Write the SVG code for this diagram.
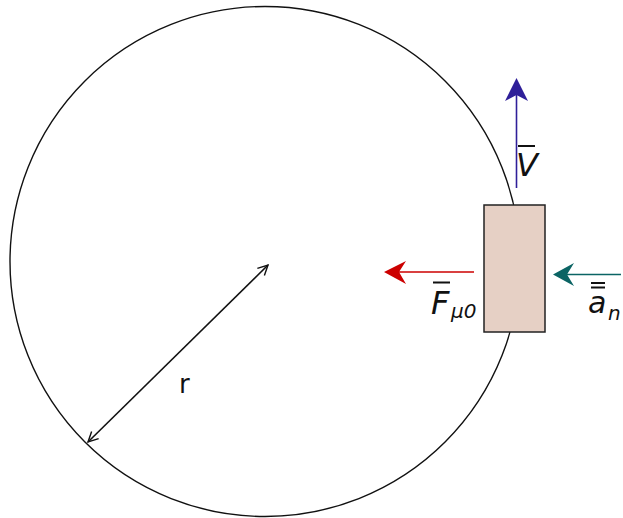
<svg xmlns="http://www.w3.org/2000/svg" width="623" height="518" viewBox="0 0 623 518">
<defs>
<style>
.lbl{font-family:"DejaVu Sans",sans-serif;font-style:italic;fill:#111;}
.ol{stroke:#111;stroke-width:2;}
</style>
<marker id="open" viewBox="0 0 12 12" refX="11" refY="6" markerWidth="12" markerHeight="12" markerUnits="userSpaceOnUse" orient="auto-start-reverse">
<path d="M1,1 L11,6 L1,11" fill="none" stroke="#111" stroke-width="1.4"/>
</marker>
</defs>
<rect width="623" height="518" fill="#fff"/>
<g id="circle">
<circle cx="265" cy="261.5" r="255" fill="none" stroke="#111" stroke-width="1.4"/>
</g>
<g id="block">
<rect x="484" y="205" width="61" height="127" fill="#e6d0c5" stroke="#222" stroke-width="1.5"/>
</g>
<g id="connectors">
<g id="radius">
<line x1="88" y1="442" x2="268" y2="265" stroke="#111" stroke-width="1.6" marker-start="url(#open)" marker-end="url(#open)"/>
</g>
<g id="arrow-V">
<line x1="516.5" y1="188" x2="516.5" y2="92" stroke="#2f1f99" stroke-width="1.6"/>
<path d="M516.5,78 L528,101 L516.5,95 L505,101 Z" fill="#2f1f99"/>
</g>
<g id="arrow-F">
<line x1="474" y1="272" x2="396" y2="272" stroke="#cc0000" stroke-width="1.6"/>
<path d="M384,272 L406,261 L399,272 L406,284 Z" fill="#cc0000"/>
</g>
<g id="arrow-a">
<line x1="621" y1="274.5" x2="565" y2="274.5" stroke="#0b6464" stroke-width="1.6"/>
<path d="M553,274.5 L574,263 L567,274.5 L574,286 Z" fill="#0b6464"/>
</g>
</g>
<g id="label-r">
<text x="179" y="393" font-family="DejaVu Sans,sans-serif" font-size="26" fill="#111">r</text>
</g>
<g id="label-V">
<line class="ol" x1="518" y1="146" x2="535" y2="146"/>
<text class="lbl" x="516" y="176" font-size="32">V</text>
</g>
<g id="label-F">
<line class="ol" x1="433" y1="282.5" x2="450" y2="282.5"/>
<text class="lbl" x="431" y="314" font-size="32">F</text>
<text class="lbl" x="451" y="318" font-size="20">μ0</text>
</g>
<g id="label-a">
<line class="ol" x1="591" y1="283" x2="605" y2="283"/>
<line class="ol" x1="591" y1="287.5" x2="605" y2="287.5"/>
<text class="lbl" x="588" y="313" font-size="30">a</text>
<text class="lbl" x="608" y="320" font-size="20">n</text>
</g>
</svg>
